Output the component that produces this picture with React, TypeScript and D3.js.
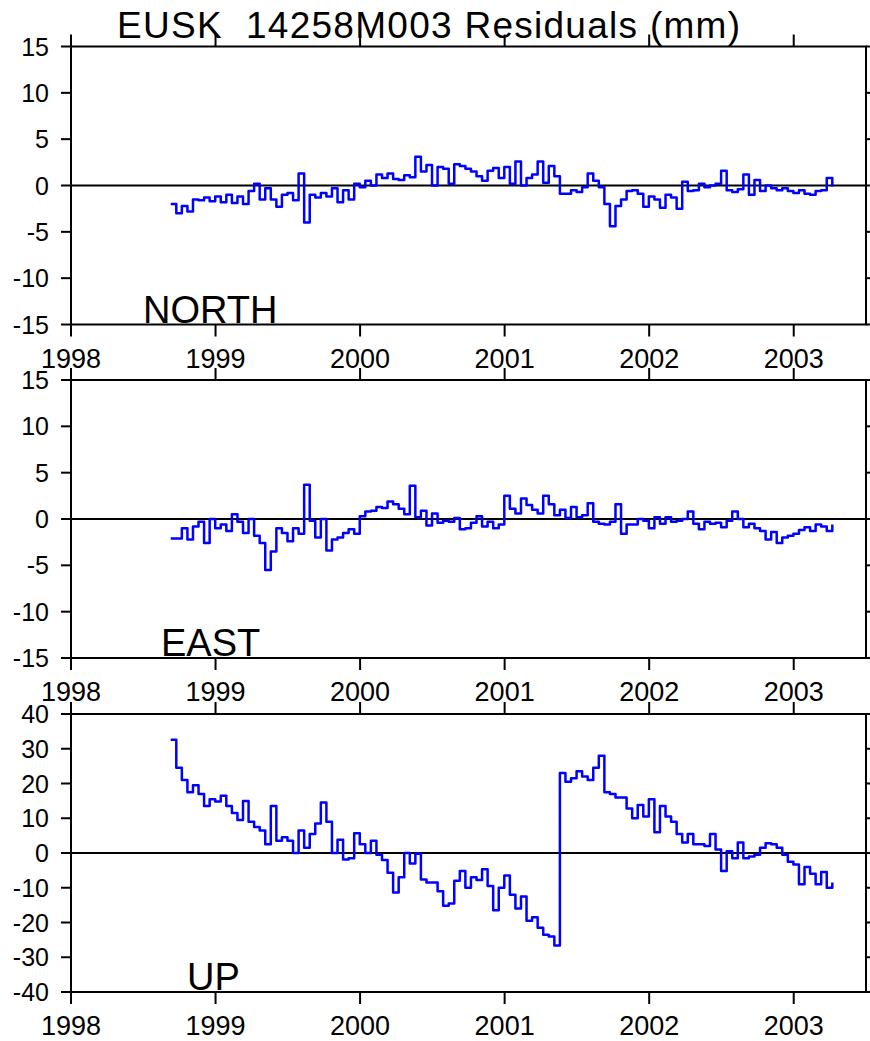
import React, { useEffect, useRef } from "react";
import * as d3 from "d3";

const title = "EUSK  14258M003 Residuals (mm)";
const yearTicks = [1998, 1999, 2000, 2001, 2002, 2003];
const startYear = 1998.69;
const sampleStep = 1 / 26;

// residuals in mm (one value per ~2 weeks)
const north = [
  -2.0, -3.0, -2.2, -2.8, -1.5, -1.6, -1.3, -1.7, -1.2, -1.8,
  -1.0, -1.9, -1.2, -2.0, -0.6, 0.2, -1.5, -0.3, -1.5, -2.3,
  -1.0, -0.8, -1.6, 1.3, -4.0, -1.0, -1.3, -0.8, -1.2, -0.3,
  -1.8, -0.5, -1.5, 0.2, -0.2, 0.5, 0.0, 1.2, 0.8, 1.3,
  0.7, 0.6, 1.1, 0.9, 3.1, 1.5, 2.2, 0.0, 2.0, 1.8,
  0.2, 2.3, 2.1, 1.8, 1.5, 1.0, 0.5, 1.6, 1.9, 0.8,
  2.0, 0.2, 2.6, 0.0, 0.8, 1.2, 2.6, 0.3, 2.1, 1.0,
  -0.9, -0.9, -0.5, -0.7, -0.2, 1.3, 0.5, -0.2, -2.0, -4.4,
  -2.2, -1.5, -0.6, -0.5, -0.9, -2.3, -1.2, -1.5, -2.4, -1.0,
  -1.3, -2.5, 0.4, -0.6, -0.5, 0.2, -0.2, 0.0, 0.2, 1.6,
  -0.5, -0.7, -0.4, 1.2, -1.0, 0.6, -0.6, 0.0, -0.3, -0.5,
  -0.3, -0.6, -0.8, -0.5, -0.9, -1.0, -0.6, -0.5, 0.8, -0.1,
];

const east = [
  -2.1, -2.1, -1.0, -2.2, -0.8, -0.3, -2.6, 0.0, -1.0, -0.6,
  -1.3, 0.5, -0.3, -1.5, 0.0, -1.8, -2.6, -5.5, -3.5, -1.0,
  -1.5, -2.4, -1.0, -1.6, 3.7, -0.2, -2.0, 0.0, -3.4, -2.2,
  -2.0, -1.5, -1.1, -1.6, 0.3, 0.8, 0.9, 1.3, 1.2, 1.9,
  1.6, 1.1, 0.5, 3.6, 0.2, 0.9, -0.7, 0.6, -0.4, -0.2,
  -0.3, 0.1, -1.1, -1.0, -0.4, 0.3, -0.8, -0.3, -1.0, -0.6,
  2.5, 1.1, 0.6, 2.2, 1.5, 1.0, 0.6, 2.5, 1.6, 0.4,
  1.0, 0.1, 1.3, 0.2, 0.4, 1.7, -0.3, -0.5, -0.6, -0.3,
  1.6, -1.6, -0.6, -0.6, 0.0, -0.2, -1.0, 0.2, -0.5, 0.2,
  -0.3, -0.2, 0.0, 0.8, -0.5, -1.1, -0.3, -0.5, -0.4, -0.9,
  -0.2, 0.8, 0.0, -0.9, -0.5, -1.0, -1.3, -2.2, -1.4, -2.6,
  -2.0, -1.8, -1.6, -1.2, -0.9, -1.3, -0.6, -0.8, -1.3, -0.6,
];

const up = [
  32.6, 24.5, 21.0, 17.5, 19.5, 17.0, 13.5, 15.5, 14.8, 16.5,
  13.5, 11.5, 9.5, 15.0, 9.0, 7.5, 6.5, 2.5, 13.5, 3.5,
  4.5, 3.5, 0.0, 6.5, 1.5, 5.5, 8.5, 14.5, 9.0, 0.0,
  3.8, -1.9, -1.5, 5.7, 2.5, 0.0, 3.5, -0.5, -2.0, -5.7,
  -11.4, -7.0, 0.0, -3.0, -0.2, -7.6, -8.5, -8.5, -11.0, -15.2,
  -14.5, -8.0, -5.2, -10.0, -7.0, -7.8, -4.7, -9.5, -16.5, -10.0,
  -6.5, -12.0, -16.0, -12.5, -19.5, -18.5, -21.5, -23.5, -24.0, -26.6,
  23.0, 20.5, 21.5, 23.5, 22.0, 21.0, 24.5, 28.0, 17.5, 17.0,
  16.0, 16.0, 12.8, 10.0, 13.8, 10.5, 15.5, 6.0, 13.5, 10.5,
  9.0, 5.5, 3.0, 5.5, 2.5, 2.5, 2.0, 5.5, 1.0, -5.2,
  0.5, -1.5, 3.0, -1.5, -1.0, -0.5, 1.5, 2.8, 2.5, 1.5,
  -0.5, -2.5, -3.3, -9.0, -4.0, -6.0, -9.0, -5.5, -10.0, -8.5,
];

const horizTicks = [-15, -10, -5, 0, 5, 10, 15];
const upTicks = [-40, -30, -20, -10, 0, 10, 20, 30, 40];

const panelNames = ["NORTH", "EAST", "UP"];
const panelSeries = [north, east, up];
const panelTicks = [horizTicks, horizTicks, upTicks];
const panelTops = [46.5, 380, 714];
const labelX = [143, 161, 187];

const W = 870;
const H = 1041;
const left = 71;
const right = 866;
const panelH = 278;
const xTickLen = 12;
const yTickLen = 10;
const font = "'Liberation Sans', Arial, Helvetica, sans-serif";

export default function App() {
  const ref = useRef<SVGSVGElement>(null);

  useEffect(() => {
    const svg = d3.select(ref.current);
    svg.selectAll("*").remove();

    const x = d3.scaleLinear().domain([1998, 2003.5]).range([left, right]);

    svg.append("text")
      .attr("x", 117)
      .attr("y", 38)
      .attr("font-family", font)
      .attr("font-size", 37)
      .attr("textLength", 623)
      .attr("lengthAdjust", "spacing")
      .style("white-space", "pre")
      .text(title);

    panelSeries.forEach((values, p) => {
      const top = panelTops[p];
      const bottom = top + panelH;
      const ticks = panelTicks[p];
      const y = d3.scaleLinear()
        .domain([ticks[0], ticks[ticks.length - 1]])
        .range([bottom, top]);
      const g = svg.append("g");

      const pts: [number, number][] = values.map((v, i) => [startYear + i * sampleStep, v]);
      const line = d3.line<[number, number]>()
        .x(d => x(d[0]))
        .y(d => y(d[1]))
        .curve(d3.curveStepAfter);

      // zero line
      g.append("line")
        .attr("x1", left).attr("x2", right)
        .attr("y1", y(0)).attr("y2", y(0))
        .attr("stroke", "#000").attr("stroke-width", 2);

      g.append("path")
        .attr("d", line(pts))
        .attr("fill", "none")
        .attr("stroke", "#0000ff")
        .attr("stroke-width", 2.5)
        .attr("stroke-linejoin", "round");

      // frame
      g.append("rect")
        .attr("x", left).attr("y", top)
        .attr("width", right - left).attr("height", panelH)
        .attr("fill", "none")
        .attr("stroke", "#000").attr("stroke-width", 2);

      // x ticks top and bottom
      yearTicks.forEach(yr => {
        g.append("line")
          .attr("x1", x(yr)).attr("x2", x(yr))
          .attr("y1", bottom).attr("y2", bottom + xTickLen)
          .attr("stroke", "#000").attr("stroke-width", 2);
        g.append("line")
          .attr("x1", x(yr)).attr("x2", x(yr))
          .attr("y1", top).attr("y2", top - xTickLen)
          .attr("stroke", "#000").attr("stroke-width", 2);
        g.append("text")
          .attr("transform", `translate(${x(yr)},${bottom + 43}) scale(1,1.05)`)
          .attr("text-anchor", "middle")
          .attr("font-family", font)
          .attr("font-size", 27)
          .text(String(yr));
      });

      // y ticks left and right
      ticks.forEach(t => {
        g.append("line")
          .attr("x1", left - yTickLen).attr("x2", left)
          .attr("y1", y(t)).attr("y2", y(t))
          .attr("stroke", "#000").attr("stroke-width", 2);
        g.append("line")
          .attr("x1", right).attr("x2", right + yTickLen)
          .attr("y1", y(t)).attr("y2", y(t))
          .attr("stroke", "#000").attr("stroke-width", 2);
        g.append("text")
          .attr("x", left - 22)
          .attr("y", y(t))
          .attr("dy", "0.36em")
          .attr("text-anchor", "end")
          .attr("font-family", font)
          .attr("font-size", 25)
          .text(String(t));
      });

      g.append("text")
        .attr("x", labelX[p])
        .attr("y", bottom - 2)
        .attr("font-family", font)
        .attr("font-size", 38)
        .text(panelNames[p]);
    });
  }, []);

  return (
    <svg
      ref={ref}
      width={W}
      height={H}
      viewBox={`0 0 ${W} ${H}`}
      style={{ position: "absolute", left: 0, top: 0, background: "#fff" }}
    />
  );
}
